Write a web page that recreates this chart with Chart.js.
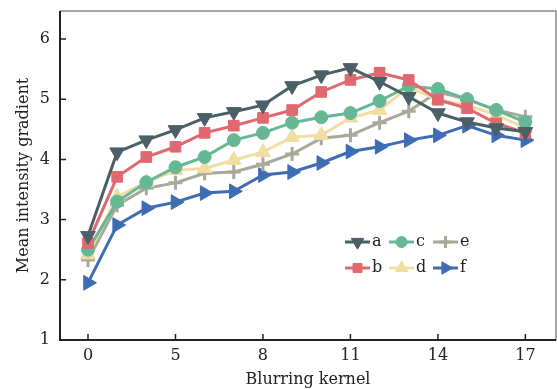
<!DOCTYPE html>
<html>
<head>
<meta charset="utf-8">
<script src="https://cdn.jsdelivr.net/npm/chart.js@4.4.1/dist/chart.umd.min.js"></script>
<style>
  html, body { margin: 0; padding: 0; background: #fff; }
  #wrap { width: 557px; height: 389px; }
</style>
</head>
<body>
<div id="wrap"><canvas id="c" width="557" height="389"></canvas></div>
<script>
// blurring kernel labels, one per point (blank = no tick)
var kernel = ['0','','','5','','','8','','','11','','','14','','','17'];

var a = [2.73,4.12,4.32,4.49,4.69,4.79,4.90,5.22,5.40,5.52,5.29,5.04,4.77,4.62,4.52,4.46];
var b = [2.61,3.71,4.04,4.21,4.44,4.56,4.69,4.82,5.12,5.32,5.44,5.32,4.99,4.85,4.60,4.44];
var c = [2.50,3.30,3.62,3.87,4.04,4.32,4.44,4.61,4.70,4.77,4.97,5.22,5.17,5.00,4.82,4.62];
var d = [2.42,3.38,3.62,3.82,3.85,3.99,4.12,4.37,4.40,4.69,4.82,5.20,4.99,4.90,4.74,4.52];
var e = [2.33,3.24,3.52,3.61,3.77,3.79,3.92,4.09,4.35,4.40,4.61,4.80,5.12,5.00,4.82,4.71];
var f = [1.95,2.91,3.19,3.29,3.44,3.47,3.74,3.79,3.94,4.13,4.21,4.32,4.40,4.56,4.40,4.32];

var yTicks = [1,2,3,4,5,6];

var FONT = 'DejaVu Serif';

function pts(arr){
	return arr.map(function(v, i){ return {x: i, y: v}; });
}

function ds(label, arr, color, style, rot, r){
	return {
		label: label,
		data: pts(arr),
		borderColor: color,
		backgroundColor: color,
		borderWidth: 3,
		pointStyle: style,
		rotation: rot,
		pointRadius: r,
		pointHoverRadius: r,
		pointBorderWidth: style === 'cross' ? 3 : 1,
		tension: 0
	};
}

var series = [
	ds('a', a, '#4b5f67', 'triangle', 180, 8.5),
	ds('b', b, '#e0686f', 'rect', 0, 7.5),
	ds('c', c, '#66b895', 'circle', 0, 6.5),
	ds('d', d, '#f2dea3', 'triangle', 0, 8.5),
	ds('e', e, '#aaa899', 'cross', 0, 7),
	ds('f', f, '#3f6db5', 'triangle', 90, 8.5)
];

// axes frame + inward ticks
var frame = {
	id: 'frame',
	afterDraw: function(chart){
		var ctx = chart.ctx, ar = chart.chartArea;
		var xs = chart.scales.x, ys = chart.scales.y;
		ctx.save();
		ctx.strokeStyle = '#8a8a8a';
		ctx.lineWidth = 1.5;
		ctx.beginPath();
		ctx.moveTo(ar.left, ar.top); ctx.lineTo(ar.right, ar.top); ctx.lineTo(ar.right, ar.bottom);
		ctx.stroke();
		ctx.strokeStyle = '#222';
		ctx.lineWidth = 2;
		ctx.beginPath();
		ctx.moveTo(ar.left, ar.top); ctx.lineTo(ar.left, ar.bottom); ctx.lineTo(ar.right, ar.bottom);
		ctx.stroke();
		ctx.lineWidth = 1.5;
		ctx.beginPath();
		ys.ticks.forEach(function(t){
			var y = ys.getPixelForValue(t.value);
			ctx.moveTo(ar.left, y); ctx.lineTo(ar.left + 6, y);
		});
		xs.ticks.forEach(function(t){
			var x = xs.getPixelForValue(t.value);
			ctx.moveTo(x, ar.bottom); ctx.lineTo(x, ar.bottom - 6);
		});
		ctx.stroke();
		ctx.restore();
	}
};

// legend drawn inside the plot, 2 rows x 3 columns
var legendIn = {
	id: 'legendIn',
	afterDraw: function(chart){
		var ctx = chart.ctx;
		var order = [[0,2,4],[1,3,5]];
		ctx.save();
		ctx.font = '16px "' + FONT + '"';
		ctx.textBaseline = 'middle';
		order.forEach(function(row, ri){
			var y = 242 + ri * 26;
			row.forEach(function(di, ci){
				var x0 = 345 + ci * 44;
				var dsx = chart.data.datasets[di];
				ctx.strokeStyle = dsx.borderColor;
				ctx.lineWidth = 3;
				ctx.beginPath(); ctx.moveTo(x0, y); ctx.lineTo(x0 + 25, y); ctx.stroke();
				ctx.fillStyle = dsx.backgroundColor;
				ctx.lineWidth = dsx.pointBorderWidth;
				Chart.helpers.drawPoint(ctx, {
					pointStyle: dsx.pointStyle,
					rotation: dsx.rotation,
					radius: dsx.pointRadius * 0.85,
					borderWidth: dsx.pointBorderWidth
				}, x0 + 12.5, y);
				ctx.fillStyle = '#222';
				ctx.fillText(dsx.label, x0 + 27, y);
			});
		});
		ctx.restore();
	}
};

new Chart(document.getElementById('c'), {
	type: 'line',
	data: { datasets: series },
	options: {
		responsive: false,
		animation: false,
		layout: { autoPadding: false, padding: { top: 11, right: 1, left: 0, bottom: 0 } },
		plugins: { legend: { display: false }, tooltip: { enabled: false } },
		scales: {
			x: {
				type: 'linear',
				min: -0.96,
				max: 16.05,
				grid: { display: false, drawTicks: false },
				border: { display: false },
				afterBuildTicks: function(s){
					s.ticks = [];
					kernel.forEach(function(k, i){ if(k !== '') s.ticks.push({value: i}); });
				},
				afterFit: function(s){ s.height = 49; s.paddingLeft = 0; s.paddingRight = 0; },
				ticks: {
					font: { family: FONT, size: 16 },
					color: '#222',
					padding: 6,
					maxRotation: 0,
					callback: function(v){ return kernel[v]; }
				},
				title: {
					display: true,
					text: 'Blurring kernel',
					font: { family: FONT, size: 16 },
					color: '#222',
					padding: { top: 0, bottom: 0 }
				}
			},
			y: {
				min: 1,
				max: 6.465,
				grid: { display: false, drawTicks: false },
				border: { display: false },
				afterBuildTicks: function(s){
					s.ticks = yTicks.map(function(v){ return {value: v}; });
				},
				afterFit: function(s){ s.width = 60; s.paddingTop = 0; s.paddingBottom = 0; },
				ticks: {
					font: { family: FONT, size: 16 },
					color: '#222',
					padding: 10
				},
				title: {
					display: true,
					text: 'Mean intensity gradient',
					font: { family: FONT, size: 16 },
					color: '#222',
					padding: { top: 14, bottom: 0 }
				}
			}
		}
	},
	plugins: [frame, legendIn]
});
</script>
</body>
</html>
